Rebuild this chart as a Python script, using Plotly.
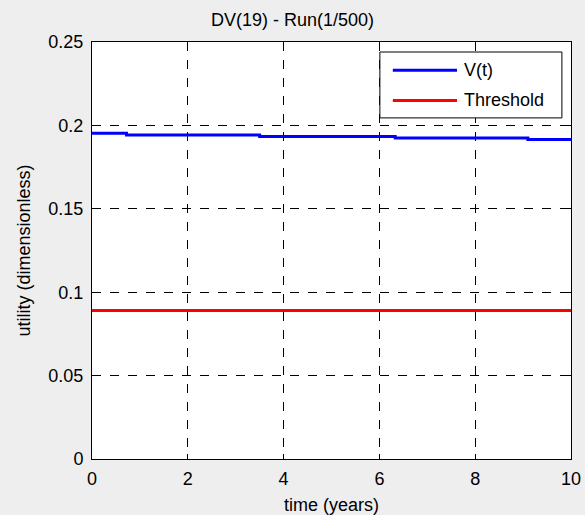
import plotly.graph_objects as go

# Data
time_steps = [0, 0.72, 3.5, 6.33, 9.1, 10]
v_values = [0.1953, 0.1943, 0.1933, 0.1924, 0.1915, 0.1915]
thr_time = [0, 10]
thr_values = [0.089, 0.089]
x_ticks = [0, 2, 4, 6, 8, 10]
y_ticks = [0, 0.05, 0.1, 0.15, 0.2, 0.25]
y_tick_labels = ["0", "0.05", "0.1", "0.15", "0.2", "0.25"]
series_names = ["V(t)", "Threshold"]
series_colors = ["#0000ff", "#ff0000"]

FONT = "Liberation Sans, Arial, sans-serif"
FS = 18

fig = go.Figure()
fig.add_trace(go.Scatter(x=time_steps, y=v_values, mode="lines", name=series_names[0],
                         line=dict(color=series_colors[0], width=3, shape="hv"), showlegend=False))
fig.add_trace(go.Scatter(x=thr_time, y=thr_values, mode="lines", name=series_names[1],
                         line=dict(color=series_colors[1], width=3), showlegend=False))

axis_common = dict(showline=True, linecolor="black", linewidth=1, mirror="ticks",
                   ticks="inside", ticklen=5, tickcolor="black",
                   showgrid=True, gridcolor="black", griddash="dash", gridwidth=1,
                   zeroline=False, tickfont=dict(size=FS, color="black", family=FONT),
                   automargin=False)

fig.update_xaxes(range=[0, 10], tickvals=x_ticks, ticktext=[str(t) for t in x_ticks],
                 ticklabelstandoff=3,
                 title=dict(text="time (years)", font=dict(size=FS, color="black", family=FONT), standoff=11),
                 **axis_common)
fig.update_yaxes(range=[0, 0.25], tickvals=y_ticks, ticktext=y_tick_labels,
                 ticklabelstandoff=4,
                 title=dict(text="utility (dimensionless)", font=dict(size=FS, color="black", family=FONT), standoff=13),
                 **axis_common)

# Custom MATLAB-style legend box (paper coordinates)
box_x0, box_x1, box_y0, box_y1 = 0.601, 0.981, 0.818, 0.976
row_y = [0.932, 0.860]
shapes = [dict(type="rect", xref="paper", yref="paper", x0=box_x0, x1=box_x1, y0=box_y0, y1=box_y1,
               line=dict(color="black", width=1), fillcolor="white", layer="above")]
annotations = []
for name, color, ry in zip(series_names, series_colors, row_y):
    shapes.append(dict(type="line", xref="paper", yref="paper", x0=0.628, x1=0.762, y0=ry, y1=ry,
                       line=dict(color=color, width=3), layer="above"))
    annotations.append(dict(xref="paper", yref="paper", x=0.772, y=ry, xanchor="left", yanchor="middle",
                            text=name, showarrow=False, font=dict(size=FS, color="black", family=FONT)))

fig.update_layout(
    width=585, height=515,
    paper_bgcolor="#eeeeee", plot_bgcolor="white",
    font=dict(family=FONT, color="black"),
    title=dict(text="DV(19) - Run(1/500)", x=0.5, xref="container", xanchor="center",
               y=0.961, yref="container", yanchor="middle",
               font=dict(size=FS, color="black", family=FONT)),
    margin=dict(l=92, r=14, t=42, b=56),
    showlegend=False,
    shapes=shapes,
    annotations=annotations,
)

fig.write_html("out.html", config={"displayModeBar": False},
               post_script="document.body.style.margin='0';document.body.style.background='#eeeeee';")
